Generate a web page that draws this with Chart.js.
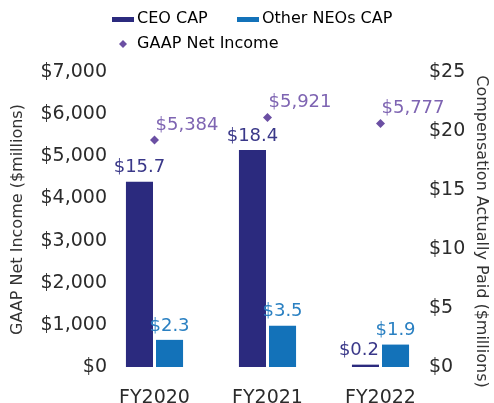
<!DOCTYPE html>
<html>
<head>
<meta charset="utf-8">
<script src="https://cdn.jsdelivr.net/npm/chart.js@4.4.1/dist/chart.umd.min.js"></script>
<style>
  html, body { margin: 0; padding: 0; background: #fff; }
  canvas { display: block; }
</style>
</head>
<body>
<canvas id="chart" width="494" height="403"></canvas>
<script>
const years = ["FY2020", "FY2021", "FY2022"];
const ceoCap = [15.7, 18.4, 0.2];
const otherNeoCap = [2.3, 3.5, 1.9];
const netIncome = [5384, 5921, 5777];
const incomeTicks = [0, 1000, 2000, 3000, 4000, 5000, 6000, 7000];
const capTicks = [0, 5, 10, 15, 20, 25];

const NAVY = "#2b2a7e";
const BLUE = "#1372b9";
const PURPLE = "#6b4fa3";
const FONT = "'DejaVu Sans', sans-serif";

// small canvases used as legend markers (icon sits right of centre)
function legendIcon(draw) {
  const c = document.createElement("canvas");
  c.width = 34;
  c.height = 10;
  draw(c.getContext("2d"));
  return c;
}
const barIcon = color => legendIcon(ctx => {
  ctx.fillStyle = color;
  ctx.fillRect(11, 3, 22, 5);
});
const diamondIcon = color => legendIcon(ctx => {
  ctx.fillStyle = color;
  ctx.beginPath();
  ctx.moveTo(22, 1);
  ctx.lineTo(26, 5);
  ctx.lineTo(22, 9);
  ctx.lineTo(18, 5);
  ctx.closePath();
  ctx.fill();
});

const money = v => "$" + v.toLocaleString("en-US");

// value labels above bars and beside the income points
const valueLabels = {
  id: "valueLabels",
  afterDatasetsDraw(chart) {
    const ctx = chart.ctx;
    ctx.save();
    ctx.font = "18px " + FONT;
    ctx.textBaseline = "middle";
    chart.data.datasets.forEach((ds, i) => {
      const meta = chart.getDatasetMeta(i);
      ctx.fillStyle = ds.labelColor;
      meta.data.forEach((el, j) => {
        const v = ds.data[j];
        if (meta.type !== "bar") {
          ctx.textAlign = "left";
          ctx.fillText(money(v), el.x + 1, el.y - 15);
          return;
        }
        const text = "$" + v.toFixed(1);
        const y = el.y - 14;
        const half = ctx.measureText(text).width / 2;
        // if the label would run into the taller bar beside it, pull it left
        const next = chart.getDatasetMeta(i + 1);
        const nb = next && next.type === "bar" ? next.data[j] : null;
        if (nb && el.x + half > nb.x - nb.width / 2 && y + 9 > nb.y) {
          ctx.textAlign = "right";
          ctx.fillText(text, el.x + el.width / 2, y);
        } else {
          ctx.textAlign = "center";
          ctx.fillText(text, el.x, y);
        }
      });
    });
    ctx.restore();
  }
};

// let the y tick labels hang a little into the plot area,
// and sit the right-hand title a bit lower
const tuckTicks = {
  id: "tuckTicks",
  afterLayout(chart) {
    const left = chart.scales.income;
    const right = chart.scales.cap;
    left.right += 9;
    right.left -= 8;
    right.top += 12;
    right.bottom += 12;
  }
};

const ctx = document.getElementById("chart").getContext("2d");

new Chart(ctx, {
  data: {
    labels: years,
    datasets: [
      {
        type: "bar",
        label: "CEO CAP",
        data: ceoCap,
        backgroundColor: NAVY,
        labelColor: "#3a3889",
        icon: barIcon(NAVY),
        yAxisID: "cap",
        order: 2
      },
      {
        type: "bar",
        label: "Other NEOs CAP",
        data: otherNeoCap,
        backgroundColor: BLUE,
        labelColor: "#2a80c2",
        icon: barIcon(BLUE),
        yAxisID: "cap",
        order: 2
      },
      {
        type: "line",
        label: "GAAP Net Income",
        data: netIncome,
        showLine: false,
        pointStyle: "rectRot",
        pointRadius: 4.5,
        pointHoverRadius: 4.5,
        pointBorderWidth: 0,
        backgroundColor: PURPLE,
        borderColor: PURPLE,
        labelColor: "#7e64b2",
        icon: diamondIcon(PURPLE),
        yAxisID: "income",
        order: 1
      }
    ]
  },
  options: {
    responsive: false,
    animation: false,
    devicePixelRatio: 1,
    layout: { padding: { top: 2, left: 0, right: 0, bottom: 0 } },
    datasets: {
      bar: { categoryPercentage: 0.532, barPercentage: 0.9 }
    },
    plugins: {
      tooltip: { enabled: false },
      legend: {
        position: "top",
        align: "start",
        fullSize: false,
        labels: {
          usePointStyle: true,
          pointStyleWidth: 22,
          padding: 9,
          color: "#222",
          font: { family: FONT, size: 16 },
          // first entry gets some trailing room so the second one sits further right
          generateLabels: chart => chart.data.datasets.map((ds, i) => ({
            text: i === 0 ? ds.label + "   " : ds.label,
            pointStyle: ds.icon,
            fillStyle: ds.backgroundColor,
            strokeStyle: ds.backgroundColor,
            lineWidth: 0,
            datasetIndex: i
          }))
        }
      },
      // empty title only used as a gap under the legend
      title: {
        display: true,
        text: "",
        weight: 100,
        padding: 0,
        font: { size: 10, lineHeight: 1 }
      }
    },
    scales: {
      x: {
        afterFit: s => { s.height = 36; },
        grid: { display: false, drawTicks: false },
        border: { display: false },
        ticks: {
          color: "#2b2b2b",
          padding: 20,
          font: { family: FONT, size: 19 }
        }
      },
      income: {
        position: "left",
        min: 0,
        max: 7000,
        afterBuildTicks: s => { s.ticks = incomeTicks.map(v => ({ value: v })); },
        afterFit: s => { s.width = 98; },
        grid: { display: false, drawTicks: false },
        border: { display: false },
        ticks: {
          color: "#2b2b2b",
          padding: 0,
          font: { family: FONT, size: 19 },
          callback: v => money(v)
        },
        title: {
          display: true,
          text: "GAAP Net Income ($millions)",
          color: "#333",
          padding: { top: 8, bottom: 0 },
          font: { family: FONT, size: 16 }
        }
      },
      cap: {
        position: "right",
        min: 0,
        max: 25,
        afterBuildTicks: s => { s.ticks = capTicks.map(v => ({ value: v })); },
        afterFit: s => { s.width = 57; },
        grid: { display: false, drawTicks: false },
        border: { display: false },
        ticks: {
          color: "#2b2b2b",
          padding: 0,
          font: { family: FONT, size: 19 },
          callback: v => money(v)
        },
        title: {
          display: true,
          text: "Compensation Actually Paid ($millions)",
          color: "#333",
          padding: { top: 3, bottom: 0 },
          font: { family: FONT, size: 16 }
        }
      }
    }
  },
  plugins: [valueLabels, tuckTicks]
});
</script>
</body>
</html>
